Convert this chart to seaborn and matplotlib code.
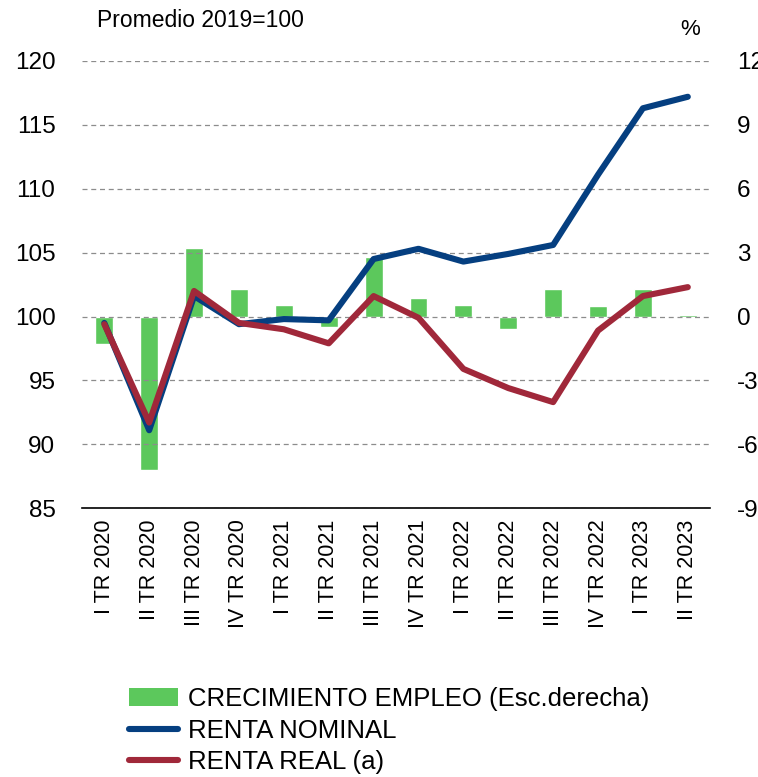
import matplotlib
matplotlib.use("Agg")
import matplotlib.pyplot as plt
import seaborn as sns
import pandas as pd
from matplotlib.patches import Patch
from matplotlib.lines import Line2D

# --- datos ---
trimestres = [
    "I TR 2020", "II TR 2020", "III TR 2020", "IV TR 2020",
    "I TR 2021", "II TR 2021", "III TR 2021", "IV TR 2021",
    "I TR 2022", "II TR 2022", "III TR 2022", "IV TR 2022",
    "I TR 2023", "II TR 2023",
]
empleo = [-1.3, -7.2, 3.2, 1.3, 0.55, -0.5, 2.8, 0.85, 0.55, -0.6, 1.3, 0.5, 1.3, 0.05]
renta_nominal = [99.5, 91.1, 101.6, 99.4, 99.8, 99.7, 104.5, 105.3, 104.3, 104.9, 105.6, 111.1, 116.3, 117.2]
renta_real = [99.4, 91.7, 102.0, 99.5, 99.0, 97.9, 101.6, 99.9, 95.9, 94.4, 93.3, 98.9, 101.6, 102.3]

left_ticks = [85, 90, 95, 100, 105, 110, 115, 120]
right_ticks = [-9, -6, -3, 0, 3, 6, 9, 12]

VERDE = "#5cc85c"
AZUL = "#053f80"
ROJO = "#a0283a"

sns.set_style("white")
plt.rcParams["font.family"] = ["Liberation Sans", "DejaVu Sans"]
plt.rcParams["text.color"] = "black"
plt.rcParams["xtick.color"] = "black"
plt.rcParams["ytick.color"] = "black"

df = pd.DataFrame({
    "trimestre": trimestres,
    "empleo": empleo,
    "nominal": renta_nominal,
    "real": renta_real,
})

fig = plt.figure(figsize=(7.58, 7.77), dpi=100)
ax = fig.add_axes([0.108, 0.346, 0.829, 0.5755])
ax2 = ax.twinx()

# barras (eje derecho)
sns.barplot(data=df, x="trimestre", y="empleo", color=VERDE, width=0.4,
            saturation=1, ax=ax2, zorder=1)
ax2.set_ylim(-9, 12)
ax2.set_yticks(right_ticks)
ax2.set_yticklabels([str(t) for t in right_ticks])

# lineas (eje izquierdo)
ax.set_zorder(ax2.get_zorder() + 1)
ax.patch.set_visible(False)
sns.lineplot(data=df, x="trimestre", y="nominal", color=AZUL, lw=4.4,
             ax=ax, sort=False, solid_capstyle="round")
sns.lineplot(data=df, x="trimestre", y="real", color=ROJO, lw=4.4,
             ax=ax, sort=False, solid_capstyle="round")
ax.set_ylim(85, 120)
ax.set_yticks(left_ticks)
ax.set_xlim(-0.5, len(trimestres) - 0.5)
ax2.set_xlim(-0.5, len(trimestres) - 0.5)

ax.yaxis.grid(True, linestyle=(0, (4, 3)), color="#8c8c8c", linewidth=0.9)
ax.xaxis.grid(False)
ax2.grid(False)

for a in (ax, ax2):
    for s in ["top", "left", "right", "bottom"]:
        a.spines[s].set_visible(False)
    a.set_xlabel("")
    a.set_ylabel("")
ax.spines["bottom"].set_visible(True)
ax.spines["bottom"].set_color("black")
ax.spines["bottom"].set_linewidth(1.2)

ax.tick_params(axis="y", length=0, pad=19, labelsize=17.5, labelcolor="black")
ax2.tick_params(axis="y", length=0, pad=19, labelsize=17.5, labelcolor="black")
ax.tick_params(axis="x", length=0, pad=8, labelsize=15.5, labelrotation=90,
               labelcolor="black")
ax2.tick_params(axis="x", length=0, labelbottom=False)

fig.text(0.128, 0.974, "Promedio 2019=100", fontsize=16.5, ha="left", va="center",
         color="black")
fig.text(0.911, 0.962, "%", fontsize=16, ha="center", va="center", color="black")

handles = [
    Patch(facecolor=VERDE, edgecolor="none"),
    Line2D([], [], color=AZUL, lw=4.4, solid_capstyle="round"),
    Line2D([], [], color=ROJO, lw=4.4, solid_capstyle="round"),
]
labels = ["CRECIMIENTO EMPLEO (Esc.derecha)", "RENTA NOMINAL", "RENTA REAL (a)"]
leg = fig.legend(handles, labels, loc="upper left", bbox_to_anchor=(0.17, 0.116),
                 frameon=False, fontsize=18.5, handlelength=1.9, handleheight=0.7,
                 handletextpad=0.4, labelspacing=0.3, borderpad=0, borderaxespad=0)
for t in leg.get_texts():
    t.set_color("black")

fig.savefig("out.png", dpi=100)
